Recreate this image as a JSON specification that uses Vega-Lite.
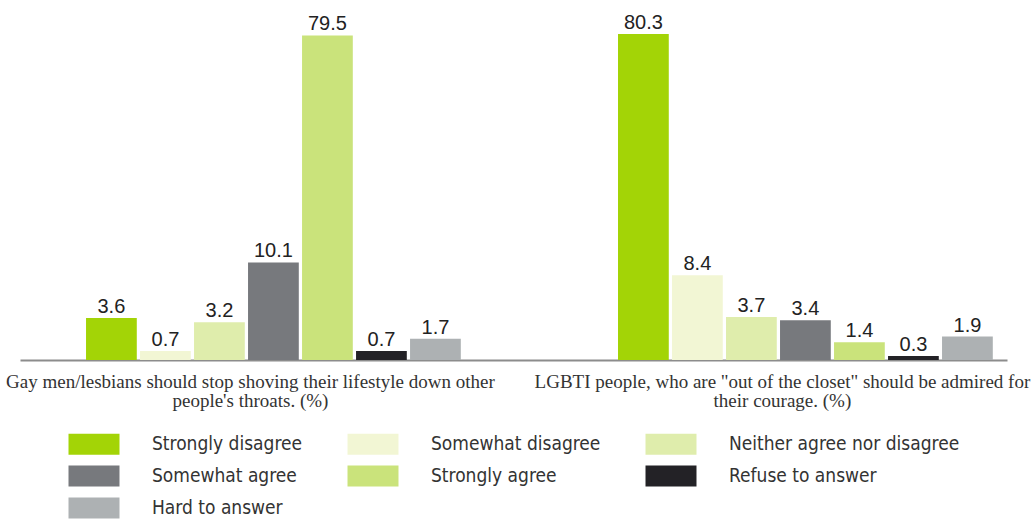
{
  "$schema": "https://vega.github.io/schema/vega-lite/v6.json",
  "width": 987,
  "height": 326,
  "autosize": "none",
  "padding": {"left": 20, "top": 34, "right": 24, "bottom": 161},
  "background": "white",
  "config": {"view": {"stroke": null}},
  "data": {
    "values": [
      {"question": "Q1", "response": "Strongly disagree", "value": 3.6},
      {"question": "Q1", "response": "Somewhat disagree", "value": 0.7},
      {"question": "Q1", "response": "Neither agree nor disagree", "value": 3.2},
      {"question": "Q1", "response": "Somewhat agree", "value": 10.1},
      {"question": "Q1", "response": "Strongly agree", "value": 79.5},
      {"question": "Q1", "response": "Refuse to answer", "value": 0.7},
      {"question": "Q1", "response": "Hard to answer", "value": 1.7},
      {"question": "Q2", "response": "Strongly disagree", "value": 80.3},
      {"question": "Q2", "response": "Somewhat disagree", "value": 8.4},
      {"question": "Q2", "response": "Neither agree nor disagree", "value": 3.7},
      {"question": "Q2", "response": "Somewhat agree", "value": 3.4},
      {"question": "Q2", "response": "Strongly agree", "value": 1.4},
      {"question": "Q2", "response": "Refuse to answer", "value": 0.3},
      {"question": "Q2", "response": "Hard to answer", "value": 1.9}
    ]
  },
  "encoding": {
    "x": {
      "field": "question",
      "type": "nominal",
      "scale": {"paddingInner": 0.2955, "paddingOuter": 0.0754, "align": 0.823},
      "axis": {
        "title": null,
        "ticks": false,
        "tickSize": 0,
        "labelAngle": 0,
        "labelPadding": 12,
        "labelOffset": -23,
        "labelFont": "Liberation Serif",
        "labelFontSize": 19,
        "labelColor": "#333333",
        "labelLineHeight": 19,
        "labelLimit": 0,
        "labelOverlap": false,
        "labelBound": false,
        "domainColor": "#8c8c8c",
        "domainWidth": 2,
        "labelExpr": "datum.value == 'Q1' ? ['Gay men/lesbians should stop shoving their lifestyle down other', \"people's throats. (%)\"] : ['LGBTI people, who are \"out of the closet\" should be admired for', 'their courage. (%)']"
      }
    },
    "xOffset": {
      "field": "response",
      "type": "nominal",
      "sort": ["Strongly disagree", "Somewhat disagree", "Neither agree nor disagree", "Somewhat agree", "Strongly agree", "Refuse to answer", "Hard to answer"],
      "scale": {"paddingInner": 0.06, "paddingOuter": 0}
    },
    "y": {
      "field": "value",
      "type": "quantitative",
      "scale": {"type": "symlog", "constant": 12, "domain": [0, 80.3], "nice": false},
      "axis": null
    }
  },
  "layer": [
    {
      "mark": {"type": "bar"},
      "encoding": {
        "color": {
          "field": "response",
          "type": "nominal",
          "sort": ["Strongly disagree", "Somewhat disagree", "Neither agree nor disagree", "Somewhat agree", "Strongly agree", "Refuse to answer", "Hard to answer"],
          "scale": {
            "domain": ["Strongly disagree", "Somewhat disagree", "Neither agree nor disagree", "Somewhat agree", "Strongly agree", "Refuse to answer", "Hard to answer"],
            "range": ["#a3d406", "#f2f6d4", "#dfedac", "#77797d", "#cae37b", "#232226", "#adb1b3"]
          },
          "legend": {
            "title": null,
            "orient": "none",
            "legendX": 61,
            "legendY": 397,
            "direction": "horizontal",
            "columns": 3,
            "columnPadding": 44,
            "rowPadding": 8,
            "padding": 0,
            "symbolType": "M-2,-0.82H2V0.82H-2Z",
            "symbolSize": 650,
            "symbolStrokeWidth": 0,
            "symbolOpacity": 1,
            "labelOffset": 45,
            "labelFont": "DejaVu Sans Condensed, Liberation Sans, sans-serif",
            "labelFontSize": 19,
            "labelColor": "#333333",
            "labelLimit": 0
          }
        }
      }
    },
    {
      "mark": {"type": "text", "baseline": "alphabetic", "dy": -5, "font": "Liberation Sans", "fontSize": 20, "color": "#222222"},
      "encoding": {
        "text": {"field": "value", "type": "quantitative", "format": ".1f"}
      }
    }
  ]
}
